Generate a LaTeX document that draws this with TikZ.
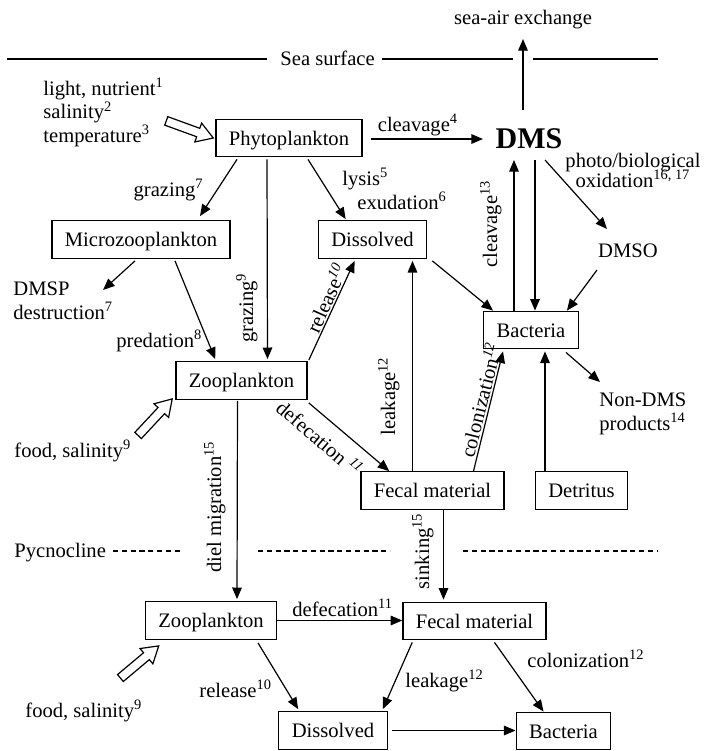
\documentclass[tikz,border=0pt]{standalone}
\usepackage{fontspec}
\setmainfont{Liberation Serif}
\usetikzlibrary{arrows.meta}
\DeclareRobustCommand{\tightfont}{\fontsize{10.3}{10}\selectfont\lineskiplimit=-20pt\relax}
\tikzset{
  box/.style={draw, line width=0.65pt, inner xsep=6.5pt, minimum height=18.75pt, text height=7pt, text depth=0pt},
  lbl/.style={inner sep=0pt},
  arrow/.style={-{Triangle[length=5.8pt, width=4.8pt]}, line width=0.6pt},
  surface/.style={line width=0.55pt},
  pycno/.style={line width=0.55pt, dash pattern=on 2.6pt off 1.8pt},
  hollow/.pic={\draw[line width=0.6pt, fill=white] (0,0) -- (-16,10) -- (-16,4.5) -- (-50,4.5) -- (-50,-4.5) -- (-16,-4.5) -- (-16,-10) -- cycle;},
}

\begin{document}
\begin{tikzpicture}[x=0.5pt, y=-0.5pt, font=\fontsize{10.3}{11.75}\selectfont]
  \useasboundingbox (0,0) rectangle (704,751);
  % sea surface and pycnocline
  \draw[surface] (7,59) -- (267,59);
  \draw[surface] (382,59) -- (513,59);
  \draw[surface] (533,59) -- (658,59);
  \node[lbl, anchor=base west] (surf) at (280,65) {Sea surface};
  \draw[pycno] (113,551) -- (183,551);
  \draw[pycno] (258,551) -- (390,551);
  \draw[pycno] (463,551) -- (658,551);
  \node[lbl, anchor=base west] (pycn) at (14,557) {Pycnocline};
  % compartments
  \node[box] (phyto) at (289,138) {Phytoplankton};
  \node[box] (micro) at (141,239.5) {Microzooplankton};
  \node[box] (dissU) at (372.5,239.5) {Dissolved};
  \node[box] (bactU) at (531,330) {Bacteria};
  \node[box] (zooU) at (241.5,380.5) {Zooplankton};
  \node[box] (fecalU) at (432.5,490.5) {Fecal material};
  \node[box] (detr) at (581.5,490.5) {Detritus};
  \node[box] (zooL) at (211,620.5) {Zooplankton};
  \node[box] (fecalL) at (474.5,621) {Fecal material};
  \node[box] (dissL) at (333,730.5) {Dissolved};
  \node[box] (bactL) at (563.5,731) {Bacteria};
  \node[lbl, anchor=base, font=\fontsize{15}{18}\selectfont\bfseries] (dms) at (529,148) {DMS};
  \node[lbl, anchor=base] (dmso) at (628,257) {DMSO};
  \node[lbl, anchor=base] (air) at (523,24) {sea-air exchange};
  \node[lbl, anchor=base west, align=left] (light) at (43,142) {light, nutrient\textsuperscript{1}\\salinity\textsuperscript{2}\\temperature\textsuperscript{3}};
  \node[lbl, anchor=base west, align=left] (dmsp) at (13,319) {DMSP\\destruction\textsuperscript{7}};
  \node[lbl, anchor=base west, align=left] (nondms) at (599,430) {Non-DMS\\products\textsuperscript{14}};
  \node[lbl, anchor=base, align=center, font=\tightfont] (photo) at (633,187) {photo/biological\\oxidation\textsuperscript{16, 17}};
  \node[lbl, anchor=base west] (foodU) at (14,457) {food, salinity\textsuperscript{9}};
  \node[lbl, anchor=base west] (foodL) at (25,717) {food, salinity\textsuperscript{9}};
  % outside factors
  \pic[rotate=-20] at ([xshift=-1pt]phyto.west) {hollow};
  \pic[rotate=47] at ([shift={(-3,-1)}]zooU.south west) {hollow};
  \pic[rotate=40] at ([shift={(14,6)}]zooL.south west) {hollow};
  % fluxes, upper layer
  \draw[arrow] ([shift={(8,1)}]phyto.east) -- ([shift={(-46,-9)}]dms.base);
  \draw[arrow] ([shift={(-6,-38)}]dms.base) -- ([shift={(0,15)}]air.base);
  \draw[arrow] ([shift={(6,12)}]dms.base) -- ([shift={(4,0)}]bactU.north);
  \draw[arrow] ([shift={(-17,0)}]bactU.north) -- ([shift={(-15,12)}]dms.base);
  \draw[arrow] ([shift={(16,12)}]dms.base) -- ([shift={(-21,-28)}]dmso.base);
  \draw[arrow] ([shift={(-31,13)}]dmso.base) -- ([shift={(-12,0)}]bactU.north east);
  \draw[arrow] ([shift={(5,2)}]dissU.south east) -- ([shift={(10,0)}]bactU.north west);
  \draw[arrow] ([shift={(-13,3)}]bactU.south east) -- ([shift={(1,-48)}]nondms.base west);
  \draw[arrow] ([shift={(-36.5,0)}]detr.north) -- ([shift={(14,2)}]bactU.south);
  \draw[arrow] ([shift={(41,0)}]fecalU.north) -- ([shift={(-28,2)}]bactU.south);
  \draw[arrow] ([shift={(-20,0)}]fecalU.north) -- ([shift={(40,2)}]dissU.south);
  \draw[arrow] ([shift={(1,3)}]zooU.south east) -- ([shift={(29,0)}]fecalU.north west);
  \draw[arrow] ([shift={(1,-1)}]zooU.north east) -- ([shift={(37,2)}]dissU.south west);
  \draw[arrow] ([shift={(19,2)}]phyto.south) -- ([shift={(28,-1)}]dissU.north west);
  \draw[arrow] ([shift={(-22,2)}]phyto.south) -- ([shift={(26,-2)}]zooU.north);
  \draw[arrow] ([shift={(-52,2)}]phyto.south) -- ([shift={(59,-4)}]micro.north);
  \draw[arrow] ([shift={(-6,2)}]micro.south) -- ([shift={(90,-29)}]dmsp.base west);
  \draw[arrow] ([shift={(34,2)}]micro.south) -- ([shift={(40,-2)}]zooU.north west);
  % fluxes across the pycnocline
  \draw[arrow] ([shift={(-4,1)}]zooU.south) -- ([shift={(26,-2)}]zooL.north);
  \draw[arrow] ([shift={(11,0)}]fecalU.south) -- ([shift={(-31,-2)}]fecalL.north);
  % fluxes, lower layer
  \draw[arrow] (zooL.east) -- (zooL.east -| fecalL.west);
  \draw[arrow] ([shift={(47,3)}]zooL.south) -- ([shift={(20,-2)}]dissL.north west);
  \draw[arrow] ([shift={(10,2)}]fecalL.south west) -- ([shift={(-5,-2)}]dissL.north east);
  \draw[arrow] ([shift={(20,2)}]fecalL.south) -- ([shift={(28,0)}]bactL.north west);
  \draw[arrow] ([xshift=2pt]dissL.east) -- (dissL.east -| bactL.west);
  % flux labels
  \node[lbl, anchor=base] (lclv4) at (418,131) {cleavage\textsuperscript{4}};
  \node[lbl, anchor=base west] (llys) at (342,185) {lysis\textsuperscript{5}};
  \node[lbl, anchor=base west] (lexu) at (357,209) {exudation\textsuperscript{6}};
  \node[lbl, anchor=base east] (lgrz7) at (204,196) {grazing\textsuperscript{7}};
  \node[lbl, anchor=base west] (lpred) at (116,347) {predation\textsuperscript{8}};
  \node[lbl, anchor=base, rotate=90] (lgrz9) at (253,308) {grazing\textsuperscript{9}};
  \node[lbl, rotate=65.6] (lrelU) at (326,298) {release\textsuperscript{\textit{10}}};
  \node[lbl, anchor=base, rotate=90] (lleakU) at (395,396) {leakage\textsuperscript{12}};
  \node[lbl, rotate=76] (lcolU) at (480,400) {colonization\textsuperscript{\textit{12}}};
  \node[lbl, anchor=base, rotate=90] (lclv13) at (497,224) {cleavage\textsuperscript{13}};
  \node[lbl, rotate=-40.5] (ldefU) at (320,438) {defecation \textsuperscript{\textit{11}}};
  \node[lbl, anchor=base, rotate=90] (ldiel) at (221,507) {diel migration\textsuperscript{15}};
  \node[lbl, anchor=base, rotate=90] (lsink) at (429,551) {sinking\textsuperscript{15}};
  \node[lbl, anchor=base west] (ldefL) at (292,616) {defecation\textsuperscript{11}};
  \node[lbl, anchor=base west] (lrelL) at (199,697) {release\textsuperscript{10}};
  \node[lbl, anchor=base west] (lleakL) at (405,687) {leakage\textsuperscript{12}};
  \node[lbl, anchor=base west] (lcolL) at (527,667) {colonization\textsuperscript{12}};
\end{tikzpicture}
\end{document}
